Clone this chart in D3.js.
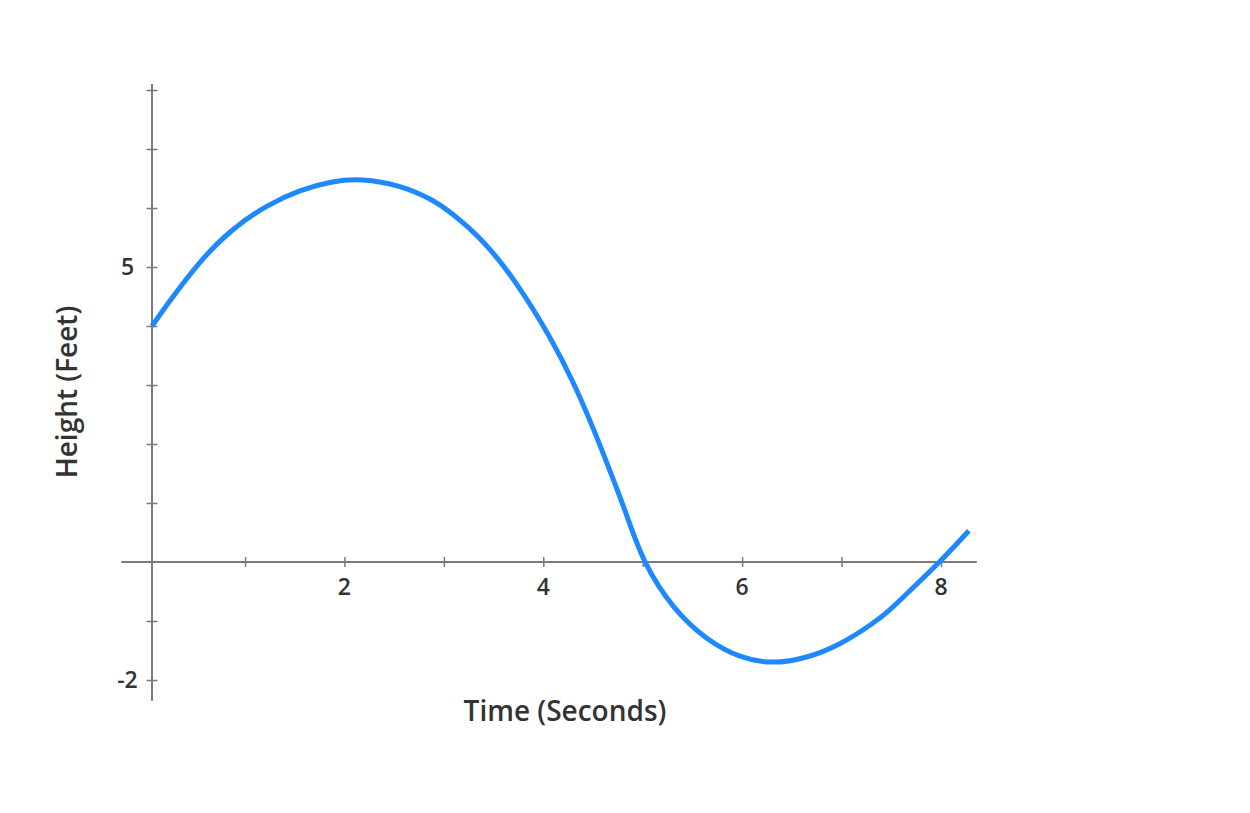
<!DOCTYPE html>
<html>
<head>
<meta charset="utf-8">
<script src="https://cdn.jsdelivr.net/npm/d3@7"></script>
<style>
  body { margin: 0; background: #fff; }
  text { font-family: "Open Sans", Lato, sans-serif; fill: #333; }
</style>
</head>
<body>
<svg id="chart" width="1250" height="813"></svg>
<script>
// datos
var tiempos = [0, 0.16, 0.52, 0.87, 1.22, 1.55, 1.89, 2.16, 2.56, 2.89, 3.06, 3.40, 3.74, 4.07, 4.31, 4.51, 4.67, 4.84, 5.0, 5.31, 5.64, 5.98, 6.31, 6.65, 6.98, 7.32, 7.49, 7.66, 7.99, 8.28];
var alturas = [4.0, 4.36, 5.12, 5.66, 6.05, 6.31, 6.46, 6.50, 6.39, 6.14, 5.94, 5.46, 4.72, 3.82, 3.03, 2.24, 1.55, 0.80, 0.0, -0.81, -1.32, -1.63, -1.73, -1.63, -1.41, -1.04, -0.81, -0.53, 0.0, 0.53];

var ticksX = [1, 2, 3, 4, 5, 6, 7, 8];
var etiquetasX = [2, 4, 6, 8];
var ticksY = [-2, -1, 1, 2, 3, 4, 5, 6, 7, 8];
var etiquetasY = [-2, 5];
var extensionX = [-0.33, 8.36];
var extensionY = [-2.35, 8.1];

var tituloX = "Time (Seconds)";
var tituloY = "Height (Feet)";

var datos = tiempos.map(function(t, i) { return { t: t, h: alturas[i] }; });

var svg = d3.select("#chart");

var x = d3.scaleLinear()
    .domain([0, 1, 8])
    .range([152, 245, 941]);

var y = d3.scaleLinear()
    .domain([0, 8])
    .range([562, 90]);

var gris = "#7a7a7a";

// eje x
var ejeX = svg.append("g")
    .attr("transform", "translate(0," + y(0) + ")")
    .call(d3.axisBottom(x).tickValues(ticksX).tickSize(5).tickFormat(""));
ejeX.select(".domain").remove();
ejeX.selectAll(".tick line")
    .attr("y1", -5)
    .attr("y2", 5)
    .attr("stroke", gris)
    .attr("stroke-width", 1.5);
ejeX.append("line")
    .attr("x1", x(extensionX[0]))
    .attr("x2", x(extensionX[1]))
    .attr("stroke", gris)
    .attr("stroke-width", 2);

// eje y
var ejeY = svg.append("g")
    .attr("transform", "translate(" + x(0) + ",0)")
    .call(d3.axisLeft(y).tickValues(ticksY).tickSize(5).tickFormat(""));
ejeY.select(".domain").remove();
ejeY.selectAll(".tick line")
    .attr("x1", -5.5)
    .attr("x2", 5.5)
    .attr("stroke", gris)
    .attr("stroke-width", 1.5);
ejeY.append("line")
    .attr("y1", y(extensionY[0]))
    .attr("y2", y(extensionY[1]))
    .attr("stroke", gris)
    .attr("stroke-width", 2);

// etiquetas
svg.selectAll(".etiquetaX")
    .data(etiquetasX)
    .enter().append("text")
    .attr("class", "etiquetaX")
    .attr("x", function(d) { return x(d); })
    .attr("y", y(0) + 25)
    .attr("dy", "0.35em")
    .attr("text-anchor", "middle")
    .attr("font-size", "23px")
    .attr("font-weight", 600)
    .text(function(d) { return d; });

svg.selectAll(".etiquetaY")
    .data(etiquetasY)
    .enter().append("text")
    .attr("class", "etiquetaY")
    .attr("x", 127.5)
    .attr("y", function(d) { return y(d); })
    .attr("dy", "0.35em")
    .attr("text-anchor", "middle")
    .attr("font-size", "23px")
    .attr("font-weight", 600)
    .text(function(d) { return d; });

svg.append("text")
    .attr("x", 565)
    .attr("y", 711)
    .attr("dy", "0.35em")
    .attr("text-anchor", "middle")
    .attr("font-size", "28px")
    .attr("font-weight", 600)
    .text(tituloX);

svg.append("text")
    .attr("transform", "translate(67,392) rotate(-90)")
    .attr("dy", "0.35em")
    .attr("text-anchor", "middle")
    .attr("font-size", "28px")
    .attr("font-weight", 600)
    .text(tituloY);

// curva
var linea = d3.line()
    .x(function(d) { return x(d.t); })
    .y(function(d) { return y(d.h); })
    .curve(d3.curveBasis);

svg.append("path")
    .datum(datos)
    .attr("d", linea)
    .attr("fill", "none")
    .attr("stroke", "#1e88ff")
    .attr("stroke-width", 5);
</script>
</body>
</html>
